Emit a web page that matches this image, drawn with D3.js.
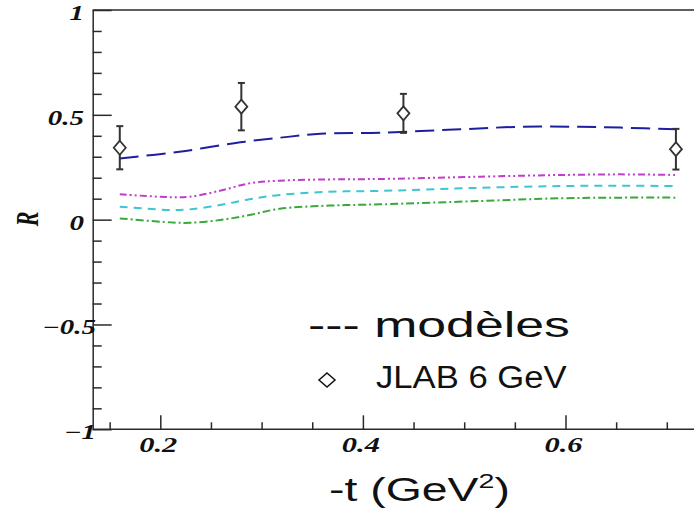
<!DOCTYPE html>
<html><head><meta charset="utf-8">
<script src="https://cdn.jsdelivr.net/npm/d3@7"></script>
<style>html,body{margin:0;padding:0;background:#fff}svg{display:block}</style>
</head><body>
<svg id="c" width="694" height="515"></svg>
<script>
// ---- data ----
const yTickMajor = [1, 0.5, 0, -0.5, -1];
const yTickLabels = ["1", "0.5", "0", "\u22120.5", "\u22121"];
const xTickMajor = [0.2, 0.4, 0.6];
const xTickLabels = ["0.2", "0.4", "0.6"];

const tData = [0.160, 0.280, 0.440, 0.709];
const rData = [0.343, 0.539, 0.507, 0.336];
const rErr  = [0.103, 0.113, 0.093, 0.097];

const tBlue = [0.160, 0.219, 0.279, 0.328, 0.358, 0.417, 0.496, 0.556, 0.614, 0.654, 0.709];
const rBlue = [0.292, 0.324, 0.369, 0.396, 0.410, 0.415, 0.431, 0.443, 0.443, 0.439, 0.431];

const tModel   = [0.160, 0.210, 0.229, 0.259, 0.288, 0.318, 0.367, 0.417, 0.516, 0.595, 0.654, 0.709];
const rMagenta = [0.121, 0.107, 0.109, 0.138, 0.173, 0.186, 0.192, 0.194, 0.205, 0.213, 0.216, 0.213];
const rCyan    = [0.062, 0.046, 0.049, 0.070, 0.097, 0.118, 0.133, 0.137, 0.152, 0.160, 0.162, 0.160];
const rGreen   = [0.006, -0.013, -0.015, -0.002, 0.022, 0.052, 0.067, 0.073, 0.089, 0.102, 0.105, 0.105];

// ---- layout ----
const svg = d3.select("#c");
const x = d3.scaleLinear().domain([0.2, 0.6]).range([160.3, 565.5]);
const xMin = x.invert(92.7), xMax = 0.75;
const y = d3.scaleLinear().domain([-1, 1]).range([429.3, 10]);
const axisColor = "#2a2a2a";

// frame
const g = svg.append("g");
g.append("line").attr("x1", x(xMin)).attr("x2", x(xMax)).attr("y1", y(1)).attr("y2", y(1))
  .attr("stroke", axisColor).attr("stroke-width", 1.5);

// y axis
const yMinor = d3.range(-10, 11).map(i => i / 10).filter(v => Math.abs(v * 2 - Math.round(v * 2)) > 1e-9);
const yAxG = g.append("g").attr("transform", `translate(${x(xMin)},0)`);
yAxG.call(d3.axisLeft(y).tickValues(yTickMajor.filter(v => Math.abs(v) < 1)).tickSize(-19).tickFormat(""));
const yAxMinor = g.append("g").attr("transform", `translate(${x(xMin)},0)`)
  .call(d3.axisLeft(y).tickValues(yMinor).tickSize(-9).tickFormat(""));
yAxMinor.select(".domain").remove();

// x axis
const xMinor = d3.range(3, 15).map(i => i * 0.05).filter(v => Math.abs(v * 5 - Math.round(v * 5)) > 1e-9 && v > xMin);
const xAxG = g.append("g").attr("transform", `translate(0,${y(-1)})`);
xAxG.call(d3.axisBottom(x).tickValues(xTickMajor).tickSize(-14).tickFormat(""));
xAxG.select(".domain").attr("d", `M${x(xMin)},0H${x(xMax)}`);
const xAxMinor = g.append("g").attr("transform", `translate(0,${y(-1)})`)
  .call(d3.axisBottom(x).tickValues(xMinor).tickSize(-7).tickFormat(""));
xAxMinor.select(".domain").remove();

svg.selectAll(".domain, .tick line").attr("stroke", axisColor).attr("stroke-width", 1.5);

// tick labels (italic serif, horizontally stretched)
const lblFont = "'Liberation Serif', 'Times New Roman', serif";
svg.append("g").selectAll("text").data(yTickMajor).join("text")
  .attr("transform", (d, i) => `translate(${d < 0 ? 96 : 84},${y(d) + 10}) scale(1.45,1)`)
  .attr("text-anchor", "end")
  .attr("font-family", lblFont).attr("font-style", "italic").attr("font-weight", "bold")
  .attr("font-size", 20).attr("fill", "#111")
  .text((d, i) => yTickLabels[i]);

svg.append("g").selectAll("text").data(xTickMajor).join("text")
  .attr("transform", d => `translate(${x(d) - 2},${y(-1) + 23}) scale(1.45,1)`)
  .attr("text-anchor", "middle")
  .attr("font-family", lblFont).attr("font-style", "italic").attr("font-weight", "bold")
  .attr("font-size", 21).attr("fill", "#111")
  .text((d, i) => xTickLabels[i]);

// y title
svg.append("text")
  .attr("transform", `translate(28,219) scale(1.4,1) rotate(-90)`)
  .attr("text-anchor", "middle").attr("dominant-baseline", "central")
  .attr("font-family", lblFont).attr("font-style", "italic").attr("font-weight", "bold")
  .attr("font-size", 22).attr("fill", "#111").text("R");

// fit helper
function fit(sel, x0, width) {
  const b = sel.node().getBBox();
  const s = width / b.width;
  sel.attr("transform", `translate(${x0 - b.x * s},0) scale(${s},1)`);
}

// x title
const sans = "'Liberation Sans', Arial, sans-serif";
const xt = svg.append("text").attr("x", 0).attr("y", 501)
  .attr("font-family", sans).attr("font-size", 34).attr("fill", "#111");
xt.append("tspan").text("-t (GeV");
xt.append("tspan").attr("font-size", 21).attr("dy", -13).text("2");
xt.append("tspan").attr("dy", 13).text(")");
fit(xt, 329, 181);

// lines
const line = d3.line().x(d => x(d[0])).y(d => y(d[1])).curve(d3.curveCatmullRom.alpha(0.5));
const models = [
  {t: tBlue, r: rBlue, color: "#1e1ea0", dash: "19,8"},
  {t: tModel, r: rMagenta, color: "#c03ccc", dash: "7,3,2,3,2,3"},
  {t: tModel, r: rCyan, color: "#3cc6d2", dash: "8,6"},
  {t: tModel, r: rGreen, color: "#3aa83a", dash: "8,3,2,3"}
];
svg.append("g").selectAll("path").data(models).join("path")
  .attr("d", m => line(m.t.map((t, i) => [t, m.r[i]])))
  .attr("fill", "none").attr("stroke", m => m.color).attr("stroke-width", 2)
  .attr("stroke-dasharray", m => m.dash);

// data points
const pts = tData.map((t, i) => ({t, r: rData[i], e: rErr[i]}));
const pg = svg.append("g");
const ptColor = "#333";
pg.selectAll("line.err").data(pts).join("line").attr("class", "err")
  .attr("x1", d => x(d.t)).attr("x2", d => x(d.t))
  .attr("y1", d => y(d.r + d.e)).attr("y2", d => y(d.r - d.e))
  .attr("stroke", ptColor).attr("stroke-width", 2);
[1, -1].forEach(sg => {
  pg.selectAll("line.cap" + sg).data(pts).join("line").attr("class", "cap" + sg)
    .attr("x1", d => x(d.t) - 3.5).attr("x2", d => x(d.t) + 3.5)
    .attr("y1", d => y(d.r + sg * d.e)).attr("y2", d => y(d.r + sg * d.e))
    .attr("stroke", ptColor).attr("stroke-width", 2);
});
const diamond = "M0,-7L6,0L0,7L-6,0Z";
pg.selectAll("path").data(pts).join("path")
  .attr("transform", d => `translate(${x(d.t)},${y(d.r)})`)
  .attr("d", diamond).attr("fill", "#fff").attr("stroke", ptColor).attr("stroke-width", 1.8);

// legend
const l1 = svg.append("text").attr("x", 0).attr("y", 337)
  .attr("font-family", sans).attr("font-size", 35).attr("fill", "#111").text("--- mod\u00e8les");
fit(l1, 308, 262);
const l2 = svg.append("text").attr("x", 0).attr("y", 388)
  .attr("font-family", sans).attr("font-size", 31).attr("fill", "#111").text("JLAB 6 GeV");
fit(l2, 376, 191);
svg.append("path").attr("transform", "translate(327,380)").attr("d", "M0,-7L8,0L0,7L-8,0Z")
  .attr("fill", "#fff").attr("stroke", "#111").attr("stroke-width", 1.5);
</script>
</body></html>
